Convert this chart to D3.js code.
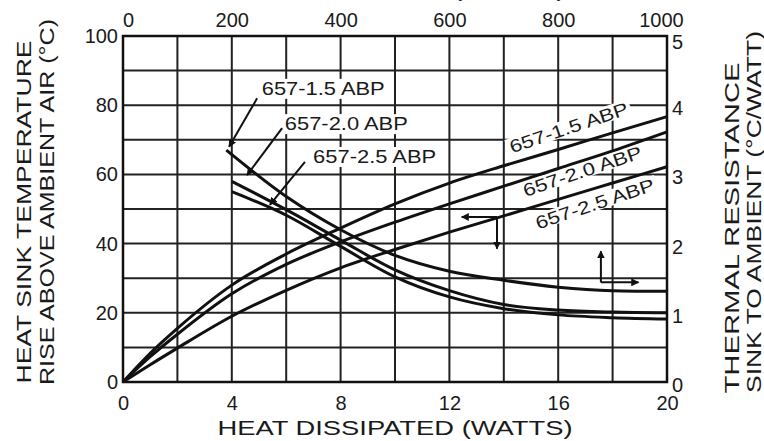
<!DOCTYPE html>
<meta charset="utf-8">
<style>
body { margin: 0; background: #fff; }
text { font-family: "Liberation Sans", Arial, sans-serif; fill: #1a1a1a; }
.grid line { stroke: #222; stroke-width: 2px; }
.curve { fill: none; stroke: #111; stroke-width: 3px; }
.tick text { font-size: 20px; }
</style>
<svg width="764" height="441"></svg>
<script src="https://d3js.org/d3.v7.min.js"></script>
<script>
let svg = d3.select("svg");

// rising curves: temperature rise (left axis) vs heat dissipated (bottom axis)
let watts = [0, 1, 2, 4, 6, 8, 10, 12, 14, 16, 18, 20];
let rise_15 = [0, 8.3, 15.5, 28, 37, 44.5, 51.5, 57.5, 62.5, 67.2, 72, 76.7];
let rise_20 = [0, 7.3, 13.8, 25.5, 34, 40.5, 46.2, 51.5, 56.6, 61.7, 66.8, 72.3];
let rise_25 = [0, 5, 9.8, 19, 26.5, 33, 38.3, 43.3, 48, 52.8, 57.5, 62.2];

// falling curves: thermal resistance (right axis) vs air velocity (top axis)
let vel_15 = [190, 300, 400, 500, 600, 700, 800, 900, 1000];
let res_15 = [3.35, 2.68, 2.2, 1.83, 1.6, 1.47, 1.37, 1.32, 1.31];
let vel_20 = [200, 300, 400, 500, 600, 700, 800, 900, 1000];
let res_20 = [2.9, 2.49, 2.05, 1.62, 1.32, 1.12, 1.04, 1.01, 1.0];
let vel_25 = [200, 300, 400, 500, 600, 700, 800, 900, 1000];
let res_25 = [2.75, 2.41, 1.96, 1.52, 1.23, 1.06, 0.97, 0.93, 0.91];

let bottomTicks = [0, 4, 8, 12, 16, 20];
let topTicks = [0, 200, 400, 600, 800, 1000];
let leftTicks = [0, 20, 40, 60, 80, 100];
let rightTicks = [0, 1, 2, 3, 4, 5];

let x = d3.scaleLinear().domain([0, 20]).range([123, 667]);
let xTop = d3.scaleLinear().domain([0, 1000]).range([123, 667]);
let yL = d3.scaleLinear().domain([0, 100]).range([382, 36]);
let yR = d3.scaleLinear().domain([0, 5]).range([382, 36]);

// grid
let grid = svg.append("g").attr("class", "grid");
grid.selectAll(".v").data(d3.range(0, 21, 2)).enter().append("line")
    .attr("x1", d => x(d)).attr("x2", d => x(d))
    .attr("y1", yL(0)).attr("y2", yL(100));
grid.selectAll(".h").data(d3.range(0, 101, 10)).enter().append("line")
    .attr("x1", x(0)).attr("x2", x(20))
    .attr("y1", d => yL(d)).attr("y2", d => yL(d));

// white masks behind the rotated labels (drawn under the curves)
let rightLabels = [
  {t: "657-1.5 ABP", w: 14.3, c: 66.1},
  {t: "657-2.0 ABP", w: 14.8, c: 53.5},
  {t: "657-2.5 ABP", w: 15.26, c: 44.1}
];
rightLabels.forEach(d => {
  svg.append("rect").attr("fill", "#fff")
    .attr("transform", `translate(${x(d.w)},${yL(d.c)}) rotate(-18.5)`)
    .attr("x", -3).attr("y", -15).attr("width", 130).attr("height", 16);
});

// curves
let riseLine = d3.line().x(d => x(d[0])).y(d => yL(d[1])).curve(d3.curveMonotoneX);
let resLine = d3.line().x(d => xTop(d[0])).y(d => yR(d[1])).curve(d3.curveMonotoneX);
[rise_15, rise_20, rise_25].forEach(s => {
  svg.append("path").attr("class", "curve").attr("d", riseLine(d3.zip(watts, s)));
});
[[vel_15, res_15], [vel_20, res_20], [vel_25, res_25]].forEach(s => {
  svg.append("path").attr("class", "curve").attr("d", resLine(d3.zip(s[0], s[1])));
});

// frame
svg.append("rect").attr("x", x(0)).attr("y", yL(100))
    .attr("width", x(20) - x(0)).attr("height", yL(0) - yL(100))
    .attr("fill", "none").attr("stroke", "#111").attr("stroke-width", 2.5);

// axes (labels only)
function clean(g) { g.select(".domain").remove(); g.selectAll("line").remove(); }
let fmt = d3.format("d");
svg.append("g").attr("transform", "translate(0,392)")
    .call(d3.axisBottom(x).tickValues(bottomTicks).tickFormat(fmt).tickSize(0).tickPadding(4)).call(clean);
let topAxis = svg.append("g").attr("transform", "translate(0,29)")
    .call(d3.axisTop(xTop).tickValues(topTicks).tickFormat(fmt).tickSize(0).tickPadding(2)).call(clean);
topAxis.selectAll(".tick text").attr("dx", d => d == 0 ? 5 : d == 1000 ? -6 : 0);
svg.append("g").attr("transform", "translate(118,0)")
    .call(d3.axisLeft(yL).tickValues(leftTicks).tickFormat(fmt).tickSize(0).tickPadding(0)).call(clean);
let rightAxis = svg.append("g").attr("transform", "translate(672,3)")
    .call(d3.axisRight(yR).tickValues(rightTicks).tickFormat(fmt).tickSize(0).tickPadding(0)).call(clean);
rightAxis.selectAll(".tick").filter(d => d == 5).attr("transform", `translate(0,${yR(5) + 4})`);
svg.selectAll(".tick text").attr("fill", "#1a1a1a").style("font-family", "'Liberation Sans', Arial, sans-serif");

// axis titles
function vtitle(txt, cx, cy, len) {
  svg.append("text").text(txt)
    .attr("transform", `translate(${cx},${cy}) rotate(-90)`)
    .attr("text-anchor", "middle").attr("dy", "0.36em")
    .attr("textLength", len).attr("lengthAdjust", "spacingAndGlyphs")
    .style("font-size", "21px");
}
vtitle("HEAT SINK TEMPERATURE", 23, 212, 343);
vtitle("RISE ABOVE AMBIENT AIR (°C)", 46, 202, 366);
vtitle("THERMAL RESISTANCE", 731, 228, 331);
vtitle("SINK TO AMBIENT (°C/WATT)", 753, 212, 362);
svg.append("text").text("HEAT DISSIPATED (WATTS)")
    .attr("x", 395).attr("y", 435).attr("text-anchor", "middle")
    .attr("textLength", 355).attr("lengthAdjust", "spacingAndGlyphs")
    .style("font-size", "21px");
svg.append("text").text("AIR VELOCITY (FT/MIN)")
    .attr("x", 408).attr("y", -3).attr("text-anchor", "middle")
    .attr("textLength", 316).attr("lengthAdjust", "spacingAndGlyphs")
    .style("font-size", "21px");

// markers
let defs = svg.append("defs");
defs.append("marker").attr("id", "arr").attr("viewBox", "0 0 10 10")
    .attr("refX", 9).attr("refY", 5).attr("markerWidth", 4).attr("markerHeight", 4)
    .attr("orient", "auto-start-reverse")
    .append("path").attr("d", "M0,0L10,5L0,10z").attr("fill", "#111");

// labels with leaders, top left
let leftLabels = [
  {t: "657-1.5 ABP", w: 5.1, c: 83, from: [4.93, 82], to: [3.9, 68]},
  {t: "657-2.0 ABP", w: 5.95, c: 72.8, from: [5.85, 73.4], to: [4.56, 59.8]},
  {t: "657-2.5 ABP", w: 6.99, c: 63.3, from: [6.69, 63.6], to: [5.4, 51.2]}
];
leftLabels.forEach(d => {
  let g = svg.append("g");
  let bg = g.append("rect").attr("fill", "#fff");
  let t = g.append("text").text(d.t).attr("x", x(d.w)).attr("y", yL(d.c))
      .attr("textLength", 123).attr("lengthAdjust", "spacingAndGlyphs")
      .style("font-size", "18px");
  let b = t.node().getBBox();
  bg.attr("x", b.x - 3).attr("y", b.y).attr("width", b.width + 6).attr("height", b.height);
  svg.append("line").attr("x1", x(d.from[0])).attr("y1", yL(d.from[1]))
      .attr("x2", x(d.to[0])).attr("y2", yL(d.to[1]))
      .attr("stroke", "#111").attr("stroke-width", 2).attr("marker-end", "url(#arr)");
});

// rotated labels on rising curves
rightLabels.forEach(d => {
  svg.append("text").text(d.t)
      .attr("transform", `translate(${x(d.w)},${yL(d.c)}) rotate(-18.5)`)
      .attr("textLength", 124).attr("lengthAdjust", "spacingAndGlyphs")
      .style("font-size", "18px");
});

// direction arrows
function arrow(x1, y1, x2, y2) {
  svg.append("line").attr("x1", x1).attr("y1", y1).attr("x2", x2).attr("y2", y2)
      .attr("stroke", "#111").attr("stroke-width", 2).attr("marker-end", "url(#arr)");
}
arrow(x(13.75), yL(47.7), x(12.45), yL(47.7));
arrow(x(13.75), yL(47.7), x(13.75), yL(38.5));
arrow(x(17.57), yL(28.8), x(17.57), yL(37.8));
arrow(x(17.57), yL(28.8), x(18.95), yL(28.8));
</script>
